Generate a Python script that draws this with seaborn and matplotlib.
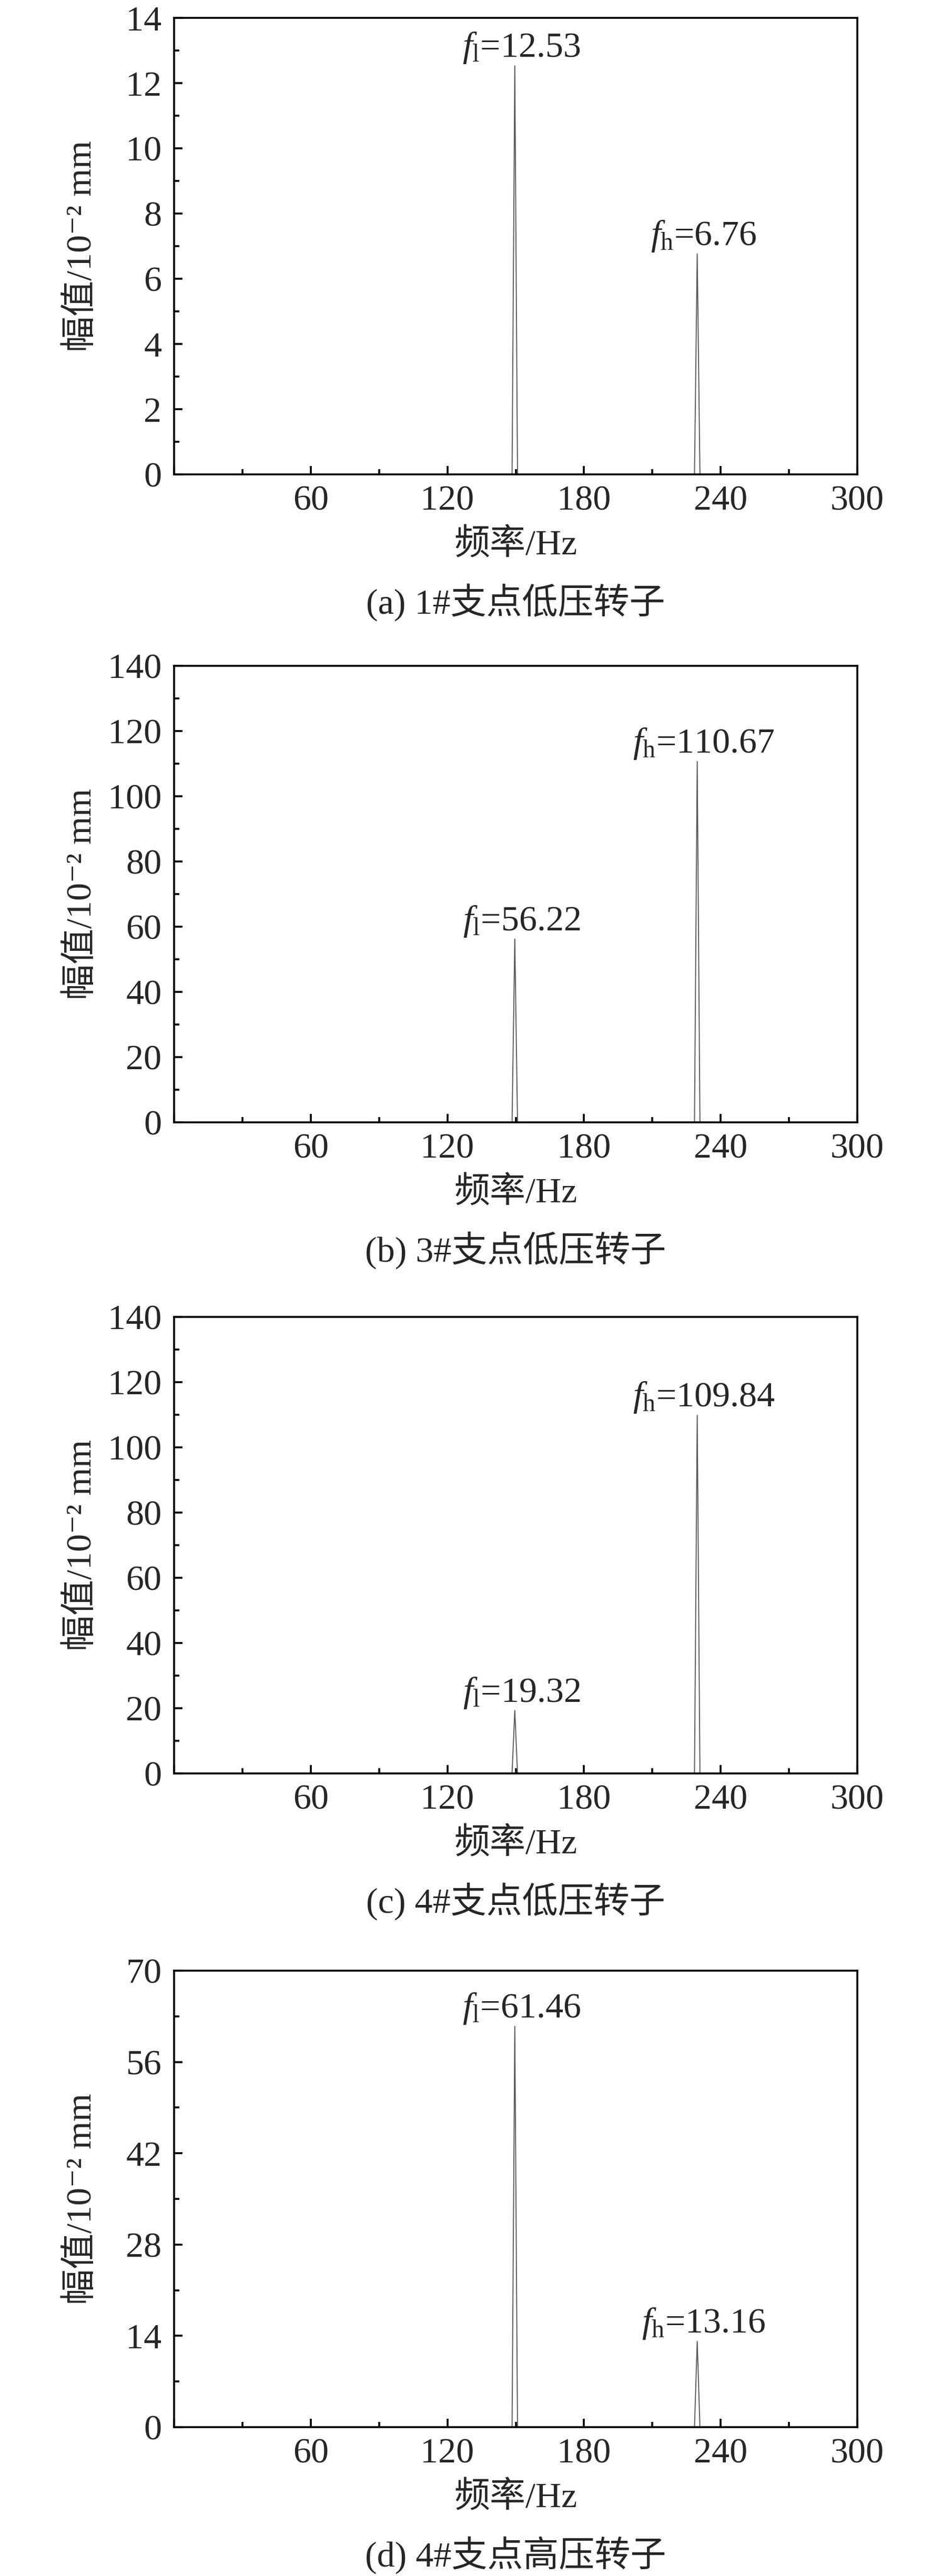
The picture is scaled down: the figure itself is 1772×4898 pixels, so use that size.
import numpy as np
import pandas as pd
import matplotlib
matplotlib.use("Agg")
import matplotlib.pyplot as plt
from matplotlib.ticker import MultipleLocator, FuncFormatter
import seaborn as sns

# ---------------- data ----------------
freq_a = [0, 148.4, 149.6, 150.8, 228.5, 229.7, 230.9, 300]
amp_a = [0, 0, 12.53, 0, 0, 6.76, 0, 0]

freq_b = [0, 148.4, 149.6, 150.8, 228.5, 229.7, 230.9, 300]
amp_b = [0, 0, 56.22, 0, 0, 110.67, 0, 0]

freq_c = [0, 148.4, 149.6, 150.8, 228.5, 229.7, 230.9, 300]
amp_c = [0, 0, 19.32, 0, 0, 109.84, 0, 0]

freq_d = [0, 148.4, 149.6, 150.8, 228.5, 229.7, 230.9, 300]
amp_d = [0, 0, 61.46, 0, 0, 13.16, 0, 0]

peak_freqs = [149.6, 229.7]
peak_names = ["l", "h"]
peak_vals_a = [12.53, 6.76]
peak_vals_b = [56.22, 110.67]
peak_vals_c = [19.32, 109.84]
peak_vals_d = [61.46, 13.16]

ylims = [14, 140, 140, 70]
ymajor = [2, 20, 20, 14]
yminor = [1, 10, 10, 7]

captions = ["(a) 1#支点低压转子", "(b) 3#支点低压转子",
            "(c) 4#支点低压转子", "(d) 4#支点高压转子"]
xlabel_text = "频率/Hz"
ylabel_text = "幅值/10⁻² mm"

# ---------------- style ----------------
sns.set_theme(style="ticks")
FAM = ["Liberation Serif", "Noto Sans CJK SC", "DejaVu Sans"]
plt.rcParams["font.family"] = FAM
plt.rcParams["mathtext.fontset"] = "custom"
plt.rcParams["mathtext.rm"] = "Liberation Serif"
plt.rcParams["mathtext.it"] = "Liberation Serif:italic"
plt.rcParams["axes.unicode_minus"] = False

FS = 49
W, H, DPI = 1772, 4898, 100
fig = plt.figure(figsize=(W / DPI, H / DPI), dpi=DPI)
fig.patch.set_facecolor("white")

left_px, right_px = 331, 1630
tops_px = [34, 1266, 2504, 3747]
ax_h_px = 868

panels = [
    (freq_a, amp_a, peak_vals_a),
    (freq_b, amp_b, peak_vals_b),
    (freq_c, amp_c, peak_vals_c),
    (freq_d, amp_d, peak_vals_d),
]

for i, (fr, am, pv) in enumerate(panels):
    top = tops_px[i]
    ax = fig.add_axes([left_px / W, 1 - (top + ax_h_px) / H,
                       (right_px - left_px) / W, ax_h_px / H])
    df = pd.DataFrame({"freq": fr, "amp": am})
    sns.lineplot(data=df, x="freq", y="amp", ax=ax, color="#5a5a5a",
                 lw=1.4, estimator=None, sort=True)
    ax.set_xlim(0, 300)
    ax.set_ylim(0, ylims[i])
    ax.xaxis.set_major_locator(MultipleLocator(60))
    ax.xaxis.set_minor_locator(MultipleLocator(30))
    ax.yaxis.set_major_locator(MultipleLocator(ymajor[i]))
    ax.yaxis.set_minor_locator(MultipleLocator(yminor[i]))
    ax.xaxis.set_major_formatter(FuncFormatter(lambda v, p: "" if abs(v) < 1e-9 else f"{v:.0f}"))
    ax.yaxis.set_major_formatter(FuncFormatter(lambda v, p: f"{v:.0f}"))
    ax.tick_params(axis="both", which="major", direction="in", length=11.5,
                   width=2.6, color="black", labelsize=FS, top=False, right=False)
    ax.tick_params(axis="both", which="minor", direction="in", length=7.5,
                   width=2.6, color="black", top=False, right=False)
    ax.tick_params(axis="x", which="major", pad=15)
    ax.tick_params(axis="y", which="major", pad=17)
    for lab in ax.get_xticklabels() + ax.get_yticklabels():
        lab.set_fontfamily("Liberation Serif")
    for sp in ax.spines.values():
        sp.set_visible(True)
        sp.set_linewidth(2.6)
        sp.set_color("black")

    ax.set_xlabel(xlabel_text, fontsize=FS, family=FAM, va="center")
    ax.xaxis.set_label_coords(0.5, -(1038 - 903) / ax_h_px)
    ax.set_ylabel(ylabel_text, fontsize=FS, family=FAM, va="center")
    ax.yaxis.set_label_coords((156 - left_px) / (right_px - left_px), 0.5)

    ax.text(0.5, -(1146 - 903) / ax_h_px, captions[i], transform=ax.transAxes,
            ha="center", va="center", fontsize=FS, family=FAM)

    for pf, name, val in zip(peak_freqs, peak_names, pv):
        ax.annotate(r"$f_\mathrm{%s}$=%.2f" % (name, val), xy=(pf, val),
                    xytext=(9, 12), textcoords="offset points",
                    ha="center", va="baseline", fontsize=FS,
                    family="Liberation Serif", annotation_clip=False)

fig.savefig("out.png", dpi=DPI, facecolor="white")
